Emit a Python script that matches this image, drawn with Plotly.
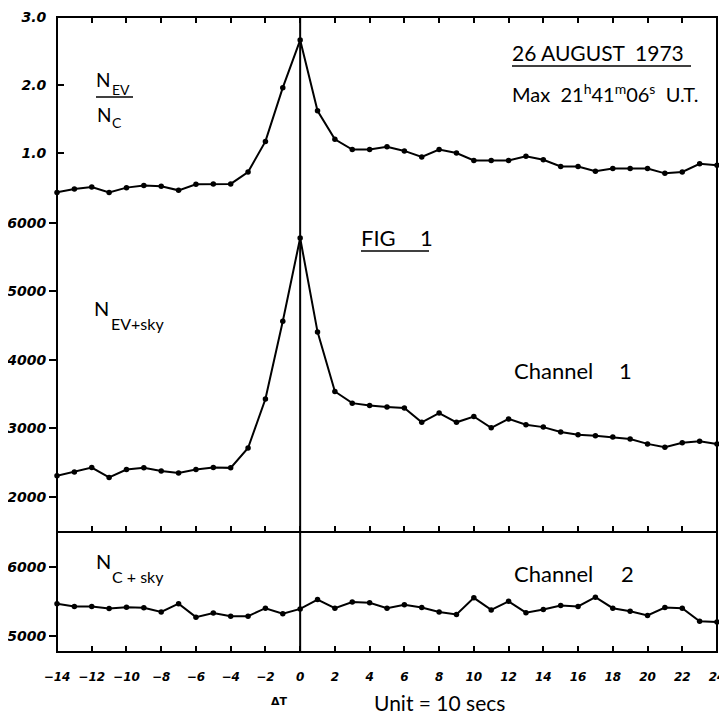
import plotly.graph_objects as go

# ---- data ----
dt = list(range(-14, 25))

ratio_ev_c = [0.42, 0.47, 0.50, 0.42, 0.49, 0.52, 0.51, 0.45, 0.54, 0.545, 0.545,
              0.72, 1.17, 1.96, 2.66, 1.62, 1.20, 1.05, 1.05, 1.09, 1.03, 0.94,
              1.05, 1.00, 0.89, 0.89, 0.89, 0.95, 0.90, 0.80, 0.80, 0.73, 0.77,
              0.77, 0.77, 0.70, 0.72, 0.84, 0.82]

channel1 = [2310, 2365, 2430, 2285, 2400, 2425, 2380, 2350, 2400, 2430, 2425,
            2715, 3430, 4565, 5780, 4410, 3540, 3370, 3335, 3315, 3300, 3090,
            3225, 3090, 3175, 3010, 3140, 3055, 3020, 2950, 2910, 2895, 2875,
            2845, 2775, 2725, 2790, 2815, 2775]

channel2 = [5470, 5430, 5430, 5400, 5420, 5410, 5350, 5470, 5275, 5335, 5290,
            5290, 5405, 5325, 5395, 5530, 5405, 5495, 5485, 5405, 5455, 5415,
            5350, 5315, 5555, 5380, 5505, 5340, 5385, 5445, 5430, 5565, 5405,
            5360, 5300, 5415, 5405, 5215, 5205]

x_tickvals = list(range(-14, 25, 2))
x_ticktext = ["\u2212" + str(-v) if v < 0 else str(v) for v in x_tickvals]
top_tickvals = [1, 2, 3]
top_ticktext = ["1.0", "2.0", "3.0"]
mid_tickvals = [2000, 3000, 4000, 5000, 6000]
bot_tickvals = [5000, 6000]

# ---- styling ----
XTICKFONT = dict(family="DejaVu Sans", size=12, color="black", weight="bold", style="italic")
YTICKFONT = dict(family="DejaVu Sans", size=14, color="black", weight="bold", style="italic")
TXT = "Lato"
line_style = dict(color="black", width=2)
marker_style = dict(color="black", size=5.5)

fig = go.Figure()
fig.add_trace(go.Scatter(x=dt, y=channel2, mode="lines+markers", line=line_style,
                         marker=marker_style, xaxis="x", yaxis="y", cliponaxis=False))
fig.add_trace(go.Scatter(x=dt, y=channel1, mode="lines+markers", line=line_style,
                         marker=marker_style, xaxis="x2", yaxis="y2", cliponaxis=False))
fig.add_trace(go.Scatter(x=dt, y=ratio_ev_c, mode="lines+markers", line=line_style,
                         marker=marker_style, xaxis="x3", yaxis="y3", cliponaxis=False))

D_BOT = 0.189
D_MID = 0.704

common_x = dict(range=[-14, 24], showgrid=False, zeroline=False, showline=False,
                tickvals=x_tickvals, ticks="inside", ticklen=6, tickwidth=1.5,
                tickcolor="black", automargin=False)
common_y = dict(tickwidth=1.5, tickcolor="black", showgrid=False, zeroline=False,
                showline=False, automargin=False)

# the page body has an 8px default margin, so the figure is 8px smaller
layout = dict(
    width=719, height=711,
    margin=dict(l=49, r=10, t=9, b=67),
    paper_bgcolor="white", plot_bgcolor="white",
    showlegend=False,
    xaxis=dict(**common_x, anchor="y", domain=[0, 1], ticktext=x_ticktext,
               tickfont=XTICKFONT, ticklabelstandoff=16),
    xaxis2=dict(**common_x, anchor="y2", domain=[0, 1], showticklabels=False),
    xaxis3=dict(**common_x, anchor="y3", domain=[0, 1], side="top", showticklabels=False),
    yaxis=dict(**common_y, domain=[0, D_BOT], range=[4770, 6510], tickvals=bot_tickvals,
               ticks="outside", ticklen=7, tickfont=YTICKFONT, anchor="x"),
    yaxis2=dict(**common_y, domain=[D_BOT, D_MID], range=[1489, 6263], tickvals=mid_tickvals,
                ticks="outside", ticklen=7, tickfont=YTICKFONT, anchor="x2"),
    yaxis3=dict(**common_y, domain=[D_MID, 1], range=[0.235, 3.0], tickvals=top_tickvals,
                ticktext=[t + "\u00a0\u00a0" for t in top_ticktext], ticks="inside", ticklen=7,
                tickfont=YTICKFONT, anchor="x3"),
    # right-hand inside ticks
    yaxis4=dict(**common_y, overlaying="y", side="right", anchor="x", range=[4770, 6510],
                tickvals=bot_tickvals, ticks="inside", ticklen=7, showticklabels=False),
    yaxis5=dict(**common_y, overlaying="y2", side="right", anchor="x2", range=[1489, 6263],
                tickvals=mid_tickvals, ticks="inside", ticklen=7, showticklabels=False),
    yaxis6=dict(**common_y, overlaying="y3", side="right", anchor="x3", range=[0.235, 3.0],
                tickvals=top_tickvals, ticks="inside", ticklen=7, showticklabels=False),
)
fig.update_layout(**layout)

# frame, divider, zero line
fig.add_shape(type="rect", xref="paper", yref="paper", x0=0, x1=1, y0=0, y1=1,
              line=dict(color="black", width=2), layer="above")
fig.add_shape(type="line", xref="paper", yref="paper", x0=0, x1=1, y0=D_BOT, y1=D_BOT,
              line=dict(color="black", width=2), layer="above")
fig.add_shape(type="line", xref="x", yref="paper", x0=0, x1=0, y0=0, y1=1,
              line=dict(color="black", width=2), layer="above")


# helpers: convert page pixels (in the reference) to paper coords of the plot area
def px(xp):
    return (xp - 57) / 660.0


def py(yp):
    return (652 - yp) / 635.0


def note(text, x, y, size=20, xanchor="left", font=TXT, weight="normal"):
    fig.add_annotation(text=text, xref="paper", yref="paper", x=px(x), y=py(y),
                       xanchor=xanchor, yanchor="middle", showarrow=False,
                       font=dict(family=font, size=size, color="black", weight=weight))


def hline(x0, x1, y):
    fig.add_shape(type="line", xref="paper", yref="paper", x0=px(x0), x1=px(x1),
                  y0=py(y), y1=py(y), line=dict(color="black", width=1.5))


# N_EV / N_C
note("N", 94, 79, size=19)
note("EV", 110, 89, size=14)
hline(96, 133, 97)
note("N", 95, 114, size=19)
note("C", 110, 123, size=14)

# Date and time
note("26 AUGUST  1973", 510, 52, size=21)
hline(512, 691, 66)
note("Max  21<sup>h</sup>41<sup>m</sup>06<sup>s</sup>  U.T.", 510, 93, size=20)

# FIG 1
note("FIG", 359, 237, size=22)
note("1", 418, 237, size=22)
hline(361, 429, 251)

note("N", 92, 308, size=20)
note("EV+sky", 109, 323, size=16)
note("Channel", 512, 370, size=22)
note("1", 617, 370, size=22)

note("N", 94, 561, size=20)
note("C + sky", 110, 576, size=16)
note("Channel", 512, 573, size=22)
note("2", 619, 573, size=22)

note("\u0394T", 279, 701, size=11, xanchor="center", font="DejaVu Sans", weight="bold")
note("Unit = 10 secs", 372, 702, size=21)

fig.write_html("out.html")
